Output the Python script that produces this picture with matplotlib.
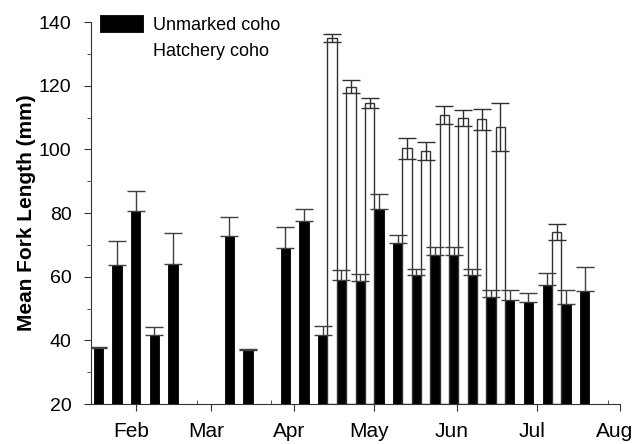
import matplotlib
matplotlib.use("Agg")
import matplotlib.pyplot as plt
import matplotlib.dates as mdates
import matplotlib.transforms as mtransforms
from matplotlib.ticker import MultipleLocator
import numpy as np
import pandas as pd

plt.rcParams['font.family'] = ['Liberation Sans', 'DejaVu Sans']

nan = np.nan

# weekly sampling dates
week_dates = ['2003-01-19', '2003-01-26', '2003-02-02', '2003-02-09', '2003-02-16',
              '2003-02-23', '2003-03-02', '2003-03-09', '2003-03-16', '2003-03-23',
              '2003-03-30', '2003-04-06', '2003-04-13', '2003-04-20', '2003-04-27',
              '2003-05-04', '2003-05-11', '2003-05-18', '2003-05-25', '2003-06-01',
              '2003-06-08', '2003-06-15', '2003-06-22', '2003-06-29', '2003-07-06',
              '2003-07-13', '2003-07-20']

unmarked_mean = [37.6, 63.7, 80.7, 41.8, 64.0, nan, nan, 72.7, 37.0, nan,
                 69.0, 77.5, 41.7, 59.1, 58.7, 81.3, 70.7, 60.4, 66.9, 66.9,
                 60.4, 53.6, 52.6, 52.1, 57.3, 51.4, 55.5]
unmarked_se = [0.4, 7.4, 6.3, 2.5, 9.7, nan, nan, 6.0, 0.3, nan,
               6.7, 3.6, 2.9, 2.9, 2.1, 4.6, 2.3, 2.1, 2.3, 2.3,
               2.0, 2.2, 3.2, 2.7, 3.7, 4.4, 7.4]

hatchery_mean = [nan, nan, nan, nan, nan, nan, nan, nan, nan, nan,
                 nan, nan, 134.9, 119.7, 114.5, nan, 100.3, 99.5, 110.7, 109.8,
                 109.4, 106.9, nan, nan, 73.9, nan, nan]
hatchery_se = [nan, nan, nan, nan, nan, nan, nan, nan, nan, nan,
               nan, nan, 1.3, 2.1, 1.5, nan, 3.2, 2.9, 2.8, 2.5,
               3.2, 7.5, nan, nan, 2.5, nan, nan]

x = pd.to_datetime(week_dates) + pd.Timedelta(hours=12)
xn = mdates.date2num(x.to_pydatetime())
w = 3.5  # days

um = np.array(unmarked_mean)
hm = np.array(hatchery_mean)
use = np.array(unmarked_se)
hse = np.array(hatchery_se)
base = 20

fig = plt.figure(figsize=(6.34, 4.44), dpi=100)
ax = fig.add_axes([91/634, 40/444, (620-91)/634, (404-22)/444])

ok = ~np.isnan(um)
ax.bar(xn[ok], um[ok] - base, bottom=base, width=-w, align='edge',
       color='black', edgecolor='black', linewidth=0.6, label='Unmarked coho', zorder=2)
ok2 = ~np.isnan(hm)
ax.bar(xn[ok2], hm[ok2] - base, bottom=base, width=w, align='edge',
       color='white', edgecolor='#333333', linewidth=1.0, label='Hatchery coho', zorder=2)

# unmarked: only the upper half of the error bar shows
ax.errorbar(xn[ok] - w/2, um[ok], yerr=[np.zeros(ok.sum()), use[ok]], fmt='none',
            ecolor='#404040', elinewidth=1.0, capsize=6.5, capthick=1.0, zorder=3)
ax.errorbar(xn[ok2] + w/2, hm[ok2], yerr=hse[ok2], fmt='none',
            ecolor='#303030', elinewidth=1.0, capsize=6.5, capthick=1.0, zorder=3)

ax.set_ylim(20, 140)
ax.set_xlim(mdates.date2num(pd.Timestamp('2003-01-15')), mdates.date2num(pd.Timestamp('2003-08-01')))
ax.yaxis.set_major_locator(MultipleLocator(20))
ax.yaxis.set_minor_locator(MultipleLocator(10))
ax.xaxis.set_major_locator(mdates.MonthLocator())
ax.xaxis.set_major_formatter(mdates.DateFormatter('%b'))
minor_x = mdates.date2num((pd.date_range('2003-01-26', '2003-08-01', freq='14D') + pd.Timedelta(hours=12)).to_pydatetime())
ax.set_xticks(minor_x, minor=True)

for s in ['top', 'right']:
    ax.spines[s].set_visible(False)
ax.spines['left'].set_color('#333333')
ax.spines['bottom'].set_color('#333333')

ax.tick_params(axis='y', which='major', labelsize=14, length=5, color='#333333', pad=9)
ax.tick_params(axis='x', which='major', labelsize=15, length=5, color='#333333', pad=8)
ax.tick_params(axis='y', which='minor', length=3, color='#333333')
ax.tick_params(axis='x', which='minor', length=3, direction='in', color='#333333')

# month labels sit a little left of their ticks
shift = mtransforms.ScaledTranslation(-5/100, 0, fig.dpi_scale_trans)
for lab in ax.get_xticklabels():
    lab.set_transform(lab.get_transform() + shift)

ax.set_ylabel('Mean Fork Length (mm)', fontsize=15, fontweight='bold', labelpad=2)

leg = ax.legend(loc='upper left', bbox_to_anchor=(0.017, 1.018), frameon=False, fontsize=13,
                handlelength=2.4, handleheight=1.05, handletextpad=0.55, labelspacing=0.45,
                borderaxespad=0, borderpad=0)
leg.legend_handles[1].set_edgecolor('white')

fig.savefig('out.png', dpi=100)
